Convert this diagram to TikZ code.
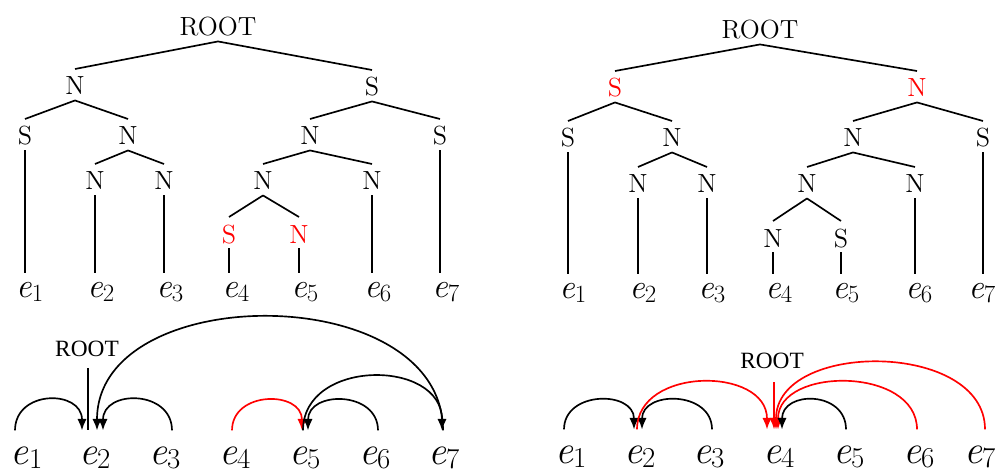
\documentclass[tikz,border=0pt]{standalone}
\usepackage{fontspec}
\newfontfamily\timesfont{Liberation Serif}
\usetikzlibrary{arrows.meta}
\newcommand{\eL}[1]{{\itshape e}\rlap{\raisebox{-0.12em}{\scalebox{0.72}{#1}}}}
\begin{document}
\begin{tikzpicture}[x=0.45pt,y=-0.45pt,
  tn/.style={inner sep=0pt, anchor=base, font=\fontsize{11.8}{13}\selectfont, text height=11.5pt, text depth=2.25pt},
  hl/.style={text=red},
  lf/.style={inner sep=0pt, anchor=base, font=\fontsize{15.5}{19}\selectfont, text height=10.6pt, text depth=0pt},
  be/.style={inner sep=0pt, anchor=base, font=\fontsize{18}{21}\selectfont, text height=14.9pt, text depth=0pt},
  broot/.style={inner sep=0pt, anchor=base, font=\timesfont\fontsize{10.5}{12}\selectfont, text depth=0pt},
  tl/.style={line width=0.75pt},
  dep/.style={line width=0.75pt, -{Latex[length=5.2pt,width=4.2pt]}},
  rdep/.style={dep, draw=red, color=red},
]
\useasboundingbox (0,0) rectangle (995,474);

% ---------------- left tree ----------------
\node[tn] (aR) at (218,36) {ROOT};
\node[tn] (aN1) at (75,95) {N};
\node[tn] (aS1) at (372,96) {S};
\node[tn] (aS2) at (25,145) {S};
\node[tn] (aN2) at (128,145) {N};
\node[tn] (aN3) at (310,145) {N};
\node[tn] (aS3) at (440,145) {S};
\node[tn] (aN4) at (95,190) {N};
\node[tn] (aN5) at (164,190) {N};
\node[tn] (aN6) at (263,190) {N};
\node[tn] (aN7) at (372,190) {N};
\node[tn,hl] (aS4) at (229,243) {S};
\node[tn,hl] (aN8) at (299,243) {N};
\node[lf] (ae1) at (24,297) {\eL{1}};
\node[lf] (ae2) at (95,297) {\eL{2}};
\node[lf] (ae3) at (164,297) {\eL{3}};
\node[lf] (ae4) at (230,297) {\eL{4}};
\node[lf] (ae5) at (299,297) {\eL{5}};
\node[lf] (ae6) at (372,297) {\eL{6}};
\node[lf] (ae7) at (440,297) {\eL{7}};
\draw[tl] (aR.south) -- (aN1.north);
\draw[tl] (aR.south) -- (aS1.north);
\draw[tl] (aN1.south) -- (aS2.north);
\draw[tl] (aN1.south) -- (aN2.north);
\draw[tl] (aN2.south) -- (aN4.north);
\draw[tl] (aN2.south) -- (aN5.north);
\draw[tl] (aS1.south) -- (aN3.north);
\draw[tl] (aS1.south) -- (aS3.north);
\draw[tl] (aN3.south) -- (aN6.north);
\draw[tl] (aN3.south) -- (aN7.north);
\draw[tl] (aN6.south) -- (aS4.north);
\draw[tl] (aN6.south) -- (aN8.north);
\draw[tl] (aS2.south) -- (aS2.south |- ae1.north);
\draw[tl] (aN4.south) -- (aN4.south |- ae2.north);
\draw[tl] (aN5.south) -- (aN5.south |- ae3.north);
\draw[tl] (aS4.south) -- (aS4.south |- ae4.north);
\draw[tl] (aN8.south) -- (aN8.south |- ae5.north);
\draw[tl] (aN7.south) -- (aN7.south |- ae6.north);
\draw[tl] (aS3.south) -- (aS3.south |- ae7.north);

% ---------------- right tree ----------------
\node[tn] (bR) at (760,39) {ROOT};
\node[tn,hl] (bS1) at (615,97) {S};
\node[tn,hl] (bN1) at (917,97) {N};
\node[tn] (bS2) at (568,147) {S};
\node[tn] (bN2) at (672,147) {N};
\node[tn] (bN3) at (853,147) {N};
\node[tn] (bS3) at (983,147) {S};
\node[tn] (bN4) at (638,193) {N};
\node[tn] (bN5) at (707,193) {N};
\node[tn] (bN6) at (807,193) {N};
\node[tn] (bN7) at (915,193) {N};
\node[tn] (bN8) at (773,247) {N};
\node[tn] (bS4) at (841,247) {S};
\node[lf] (be1) at (567,298) {\eL{1}};
\node[lf] (be2) at (637,298) {\eL{2}};
\node[lf] (be3) at (706,298) {\eL{3}};
\node[lf] (be4) at (773,298) {\eL{4}};
\node[lf] (be5) at (840,298) {\eL{5}};
\node[lf] (be6) at (913,298) {\eL{6}};
\node[lf] (be7) at (976,298) {\eL{7}};
\draw[tl] (bR.south) -- (bS1.north);
\draw[tl] (bR.south) -- (bN1.north);
\draw[tl] (bS1.south) -- (bS2.north);
\draw[tl] (bS1.south) -- (bN2.north);
\draw[tl] (bN2.south) -- (bN4.north);
\draw[tl] (bN2.south) -- (bN5.north);
\draw[tl] (bN1.south) -- (bN3.north);
\draw[tl] (bN1.south) -- (bS3.north);
\draw[tl] (bN3.south) -- (bN6.north);
\draw[tl] (bN3.south) -- (bN7.north);
\draw[tl] (bN6.south) -- (bN8.north);
\draw[tl] (bN6.south) -- (bS4.north);
\draw[tl] (bS2.south) -- (bS2.south |- be1.north);
\draw[tl] (bN4.south) -- (bN4.south |- be2.north);
\draw[tl] (bN5.south) -- (bN5.south |- be3.north);
\draw[tl] (bN8.south) -- (bN8.south |- be4.north);
\draw[tl] (bS4.south) -- (bS4.south |- be5.north);
\draw[tl] (bN7.south) -- (bN7.south |- be6.north);
\draw[tl] (bS3.south) -- (bS3.south |- be7.north);

% ---------------- left dependencies ----------------
\node[broot] (cR) at (87,356) {ROOT};
\node[be] (ce1) at (20,464) {\eL{1}};
\node[be] (ce2) at (88,464) {\eL{2}};
\node[be] (ce3) at (158,464) {\eL{3}};
\node[be] (ce4) at (228,464) {\eL{4}};
\node[be] (ce5) at (298,464) {\eL{5}};
\node[be] (ce6) at (368,464) {\eL{6}};
\node[be] (ce7) at (437,464) {\eL{7}};
\draw[line width=0.75pt] ([shift={(1,12)}]cR.south) -- (ce2.north);
\draw[dep] ([shift={(-5,0)}]ce1.north) .. controls +(0,-41) and +(0,-41) .. ([shift={(-6,0)}]ce2.north);
\draw[dep] ([shift={(14,0)}]ce3.north) .. controls +(0,-41) and +(0,-41) .. ([shift={(15,0)}]ce2.north);
\draw[dep] ([shift={(6,0)}]ce7.north) .. controls +(0,-151) and +(0,-151) .. ([shift={(9,0)}]ce2.north);
\draw[rdep] ([shift={(4,0)}]ce4.north) .. controls +(0,-40) and +(0,-40) .. ([shift={(4,0)}]ce5.north);
\draw[dep] ([shift={(10,0)}]ce6.north) .. controls +(0,-40) and +(0,-40) .. ([shift={(10,0)}]ce5.north);
\draw[dep] ([shift={(5,0)}]ce5.north) .. controls +(0,-72) and +(0,-72) .. ([shift={(5,0)}]ce7.north);

% ---------------- right dependencies ----------------
\node[broot] (dR) at (772,368) {ROOT};
\node[be] (de1) at (564,463) {\eL{1}};
\node[be] (de2) at (633,463) {\eL{2}};
\node[be] (de3) at (702,463) {\eL{3}};
\node[be] (de4) at (772,463) {\eL{4}};
\node[be] (de5) at (842,463) {\eL{5}};
\node[be] (de6) at (912,463) {\eL{6}};
\node[be] (de7) at (973,463) {\eL{7}};
\draw[dep] ([shift={(0,0)}]de1.north) .. controls +(0,-39) and +(0,-39) .. ([shift={(1,0)}]de2.north);
\draw[dep] ([shift={(10,0)}]de3.north) .. controls +(0,-39) and +(0,-39) .. ([shift={(9,0)}]de2.north);
\draw[rdep] ([shift={(4,0)}]de2.north) .. controls +(0,-63) and +(0,-63) .. ([shift={(-5,0)}]de4.north);
\draw[rdep] ([shift={(2,14)}]dR.south) -- ([shift={(2,0)}]de4.north);
\draw[rdep] ([shift={(12,0)}]de7.north) .. controls +(0,-89) and +(0,-89) .. ([shift={(4,0)}]de4.north);
\draw[rdep] ([shift={(5,0)}]de6.north) .. controls +(0,-63) and +(0,-63) .. ([shift={(6,0)}]de4.north);
\draw[dep] ([shift={(4,0)}]de5.north) .. controls +(0,-39) and +(0,-39) .. ([shift={(10,0)}]de4.north);
\end{tikzpicture}
\end{document}
